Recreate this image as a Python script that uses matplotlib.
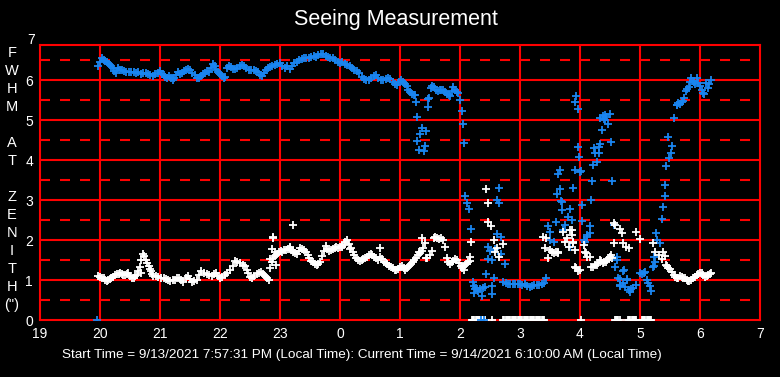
import numpy as np
import matplotlib
matplotlib.use("Agg")
import matplotlib.pyplot as plt
from matplotlib.transforms import blended_transform_factory

plt.rcParams['font.family'] = ['Liberation Sans', 'DejaVu Sans']

# ------------------------------------------------------------------
# data  (time in hours after local midnight of the start day, 24 = 0h)
# ------------------------------------------------------------------
hour_ticks = [19, 20, 21, 22, 23, 24, 25, 26, 27, 28, 29, 30, 31]
hour_labels = ['19', '20', '21', '22', '23', '0', '1', '2', '3', '4', '5', '6', '7']

blue_trace = [
    (19.97, 6.35), (20.00, 6.45), (20.03, 6.54), (20.06, 6.50), (20.09, 6.48),
    (20.12, 6.44), (20.15, 6.40), (20.18, 6.36), (20.21, 6.30), (20.24, 6.22),
    (20.27, 6.18), (20.30, 6.30), (20.33, 6.26), (20.36, 6.24), (20.40, 6.22),
    (20.44, 6.21), (20.48, 6.19), (20.52, 6.21), (20.56, 6.20), (20.60, 6.18),
    (20.64, 6.20), (20.68, 6.16), (20.72, 6.18), (20.76, 6.17), (20.80, 6.14),
    (20.84, 6.12), (20.88, 6.10), (20.92, 6.14), (20.96, 6.18), (21.00, 6.22),
    (21.03, 6.16), (21.06, 6.12), (21.09, 6.08), (21.12, 6.06), (21.15, 6.10),
    (21.18, 6.04), (21.21, 6.00), (21.24, 6.06), (21.27, 6.12), (21.30, 6.20),
    (21.33, 6.14), (21.36, 6.18), (21.40, 6.22), (21.44, 6.26), (21.47, 6.28),
    (21.50, 6.24), (21.54, 6.18), (21.58, 6.12), (21.62, 6.06), (21.65, 6.04),
    (21.68, 6.10), (21.72, 6.14), (21.75, 6.18), (21.78, 6.22), (21.82, 6.20),
    (21.85, 6.30), (21.88, 6.40), (21.91, 6.34), (21.94, 6.26), (21.97, 6.21),
    (22.00, 6.16), (22.03, 6.10), (22.06, 6.04), (22.09, 6.08), (22.12, 6.30),
    (22.15, 6.36), (22.18, 6.32), (22.21, 6.28), (22.25, 6.27), (22.29, 6.30),
    (22.33, 6.34), (22.37, 6.37), (22.40, 6.36), (22.44, 6.30), (22.48, 6.26),
    (22.52, 6.24), (22.56, 6.24), (22.60, 6.22), (22.64, 6.20), (22.67, 6.12),
    (22.70, 6.10), (22.73, 6.18), (22.77, 6.24), (22.80, 6.30), (22.83, 6.32),
    (22.87, 6.34), (22.91, 6.38), (22.95, 6.40), (23.00, 6.42), (23.04, 6.36),
    (23.08, 6.30), (23.12, 6.34), (23.16, 6.28), (23.20, 6.36), (23.24, 6.42),
    (23.28, 6.46), (23.32, 6.50), (23.36, 6.52), (23.40, 6.54), (23.44, 6.56),
    (23.48, 6.55), (23.52, 6.58), (23.56, 6.60), (23.60, 6.58), (23.64, 6.62),
    (23.68, 6.65), (23.72, 6.66), (23.76, 6.60), (23.80, 6.58), (23.84, 6.56),
    (23.88, 6.54), (23.92, 6.50), (23.96, 6.46), (24.00, 6.42), (24.04, 6.44),
    (24.08, 6.40), (24.12, 6.38), (24.16, 6.34), (24.20, 6.30), (24.24, 6.26),
    (24.28, 6.22), (24.32, 6.18), (24.36, 6.08), (24.40, 6.02), (24.44, 6.00),
    (24.48, 6.00), (24.52, 6.04), (24.56, 6.10), (24.60, 6.12), (24.64, 6.06),
    (24.68, 6.00), (24.72, 6.00), (24.76, 6.02), (24.80, 6.04), (24.84, 6.02),
    (24.88, 5.96), (24.92, 5.90), (24.95, 5.88), (24.98, 5.94), (25.02, 6.00),
    (25.05, 5.96), (25.08, 5.90), (25.11, 5.84), (25.14, 5.76), (25.17, 5.71),
    (25.20, 5.66), (25.23, 5.62), (25.25, 5.62),
    (25.52, 5.80), (25.54, 5.86), (25.57, 5.82), (25.60, 5.76), (25.63, 5.72),
    (25.66, 5.74), (25.69, 5.76), (25.72, 5.75), (25.75, 5.70), (25.78, 5.66),
    (25.81, 5.62), (25.83, 5.60), (25.86, 5.72), (25.89, 5.82), (25.92, 5.76),
    (25.95, 5.70), (25.97, 5.67), (26.00, 5.50), (26.03, 5.22), (26.05, 4.89),
    (26.07, 4.42), (26.08, 3.10), (26.11, 2.92), (26.15, 2.77), (26.18, 2.27),
]

blue_scatter = [
    (25.26, 5.46), (25.28, 5.07), (25.36, 4.79), (25.43, 4.72), (25.33, 4.64),
    (25.29, 4.47), (25.42, 4.35), (25.32, 4.25), (25.40, 4.22), (25.46, 5.32),
    (25.48, 5.54), (25.46, 5.52),
    (26.21, 0.94), (26.23, 0.68), (26.24, 0.85), (26.25, 0.77), (26.27, 0.80),
    (26.30, 0.72), (26.33, 0.78), (26.36, 0.61), (26.39, 0.79), (26.42, 0.83),
    (26.53, 0.86), (26.54, 0.64), (26.43, 1.16), (26.46, 1.53), (26.47, 1.82),
    (26.50, 1.72), (26.53, 1.50), (26.56, 1.06), (26.58, 1.77), (26.61, 2.14),
    (26.61, 3.00), (26.65, 3.29), (26.65, 2.93), (26.68, 1.65), (26.69, 2.07),
    (26.75, 1.40),
]

blue_band = [
    (26.72, 0.95), (26.76, 0.92), (26.80, 0.90), (26.84, 0.90), (26.88, 0.89),
    (26.92, 0.90), (26.96, 0.90), (27.00, 0.89), (27.04, 0.88), (27.08, 0.90),
    (27.12, 0.86), (27.16, 0.82), (27.20, 0.86), (27.24, 0.88), (27.28, 0.88),
    (27.32, 0.88), (27.36, 0.90), (27.40, 0.92), (27.43, 1.04),
]

blue_late = [
    (27.47, 2.35), (27.50, 2.21), (27.50, 2.00), (27.56, 1.96), (27.60, 2.46),
    (27.62, 3.15), (27.64, 3.65), (27.67, 3.75), (27.67, 3.27), (27.69, 2.97),
    (27.70, 2.75), (27.70, 2.96), (27.72, 2.25), (27.75, 2.37), (27.80, 2.58),
    (27.83, 2.77), (27.83, 1.83), (27.87, 2.50), (27.89, 3.29), (27.91, 3.74),
    (27.92, 5.44), (27.93, 5.60), (27.96, 5.27), (27.97, 4.32), (27.99, 4.07),
    (28.00, 3.71), (28.01, 3.72), (28.03, 2.47), (28.04, 2.87), (28.06, 2.00),
    (28.08, 1.96), (28.11, 2.12), (28.11, 2.08), (28.16, 2.35), (28.16, 2.17),
    (28.18, 2.99), (28.20, 3.47), (28.22, 3.87), (28.24, 4.29), (28.25, 4.18),
    (28.29, 3.94), (28.31, 4.17), (28.32, 4.33), (28.33, 4.39), (28.34, 5.04),
    (28.36, 4.75), (28.38, 5.10), (28.40, 5.02), (28.41, 5.12), (28.42, 5.00),
    (28.44, 5.07), (28.46, 4.89), (28.50, 5.14), (28.52, 4.44), (28.54, 3.47),
    (28.56, 2.37), (28.59, 1.33), (28.61, 1.50), (28.62, 1.58), (28.64, 1.04),
    (28.66, 1.03), (28.67, 0.86), (28.67, 0.87), (28.71, 1.23), (28.72, 0.92),
    (28.73, 1.25), (28.75, 0.83), (28.78, 1.00), (28.79, 1.02), (28.81, 0.74),
    (28.83, 0.71), (28.85, 0.77), (28.89, 0.79), (28.94, 0.87),
    (29.00, 1.17), (29.04, 1.15), (29.06, 1.18), (29.08, 1.20), (29.12, 1.00),
    (29.14, 0.92), (29.17, 0.85), (29.18, 0.73), (29.22, 1.32), (29.23, 1.58),
    (29.24, 1.35), (29.25, 1.46), (29.26, 2.17), (29.28, 2.00), (29.33, 1.93),
    (29.36, 2.52), (29.39, 2.83), (29.41, 3.10), (29.42, 3.37), (29.44, 3.85),
    (29.47, 4.57), (29.49, 4.04), (29.52, 4.18), (29.54, 4.35), (29.56, 5.04),
    (29.61, 5.37), (29.62, 5.38), (29.64, 5.42), (29.67, 5.40), (29.70, 5.45),
    (29.72, 5.48), (29.74, 5.55), (29.77, 5.72), (29.79, 5.78), (29.81, 5.83),
    (29.83, 5.95), (29.85, 6.04), (29.88, 5.98), (29.90, 5.95), (29.92, 5.90),
    (29.95, 6.05), (29.97, 5.93), (30.00, 5.85), (30.03, 5.75), (30.05, 5.67),
    (30.07, 5.65), (30.10, 5.93), (30.13, 5.80), (30.15, 5.90), (30.18, 6.00),
]

blue_zero_t = [19.95, 26.35, 26.40]

white_trace = [
    (19.97, 1.10), (20.00, 1.08), (20.03, 1.06), (20.06, 1.04), (20.09, 1.00),
    (20.11, 0.98), (20.14, 1.00), (20.17, 1.02), (20.19, 1.04), (20.22, 1.08),
    (20.25, 1.12), (20.28, 1.15), (20.31, 1.16), (20.33, 1.18), (20.36, 1.15),
    (20.39, 1.12), (20.42, 1.12), (20.45, 1.15), (20.47, 1.17), (20.50, 1.10),
    (20.53, 1.06), (20.56, 1.04), (20.59, 1.10), (20.61, 1.12), (20.64, 1.22),
    (20.66, 1.32), (20.69, 1.50), (20.72, 1.65), (20.74, 1.60), (20.77, 1.50),
    (20.79, 1.42), (20.81, 1.36), (20.83, 1.28), (20.85, 1.23), (20.87, 1.15),
    (20.89, 1.10), (20.93, 1.09), (20.97, 1.08), (21.01, 1.06), (21.06, 1.04),
    (21.10, 1.02), (21.14, 1.00), (21.17, 0.98), (21.21, 1.00), (21.25, 1.00),
    (21.28, 1.04), (21.31, 1.04), (21.35, 1.00), (21.39, 0.96), (21.43, 1.04),
    (21.47, 1.10), (21.50, 1.02), (21.53, 0.96), (21.57, 0.98), (21.61, 1.00),
    (21.65, 1.12), (21.69, 1.23), (21.73, 1.18), (21.78, 1.15), (21.82, 1.12),
    (21.86, 1.10), (21.90, 1.14), (21.93, 1.17), (21.96, 1.10), (22.00, 1.04),
    (22.04, 1.08), (22.08, 1.12), (22.12, 1.18), (22.17, 1.25), (22.21, 1.36),
    (22.25, 1.48), (22.29, 1.45), (22.33, 1.42), (22.38, 1.38), (22.42, 1.35),
    (22.45, 1.25), (22.47, 1.17), (22.50, 1.08), (22.53, 1.04), (22.57, 1.10),
    (22.61, 1.15), (22.65, 1.18), (22.69, 1.21), (22.72, 1.15), (22.75, 1.10),
    (22.78, 1.05), (22.81, 1.00), (22.84, 1.30), (22.86, 1.45), (22.89, 1.55),
    (22.92, 1.60), (22.95, 1.66), (22.98, 1.70), (23.01, 1.72), (23.04, 1.70),
    (23.07, 1.74), (23.10, 1.76), (23.13, 1.78), (23.16, 1.80), (23.19, 1.76),
    (23.22, 1.70), (23.25, 1.68), (23.28, 1.66), (23.31, 1.72), (23.34, 1.80),
    (23.37, 1.78), (23.40, 1.76), (23.43, 1.70), (23.46, 1.62), (23.49, 1.56),
    (23.52, 1.48), (23.55, 1.44), (23.58, 1.40), (23.61, 1.38), (23.64, 1.40),
    (23.67, 1.46), (23.70, 1.60), (23.73, 1.72), (23.76, 1.84), (23.79, 1.78),
    (23.82, 1.72), (23.85, 1.76), (23.88, 1.78), (23.91, 1.80), (23.94, 1.82),
    (23.97, 1.80), (24.00, 1.82), (24.03, 1.84), (24.06, 1.88), (24.09, 1.96),
    (24.12, 2.00), (24.15, 1.90), (24.18, 1.80), (24.21, 1.70), (24.24, 1.62),
    (24.27, 1.55), (24.30, 1.50), (24.33, 1.48), (24.36, 1.50), (24.39, 1.52),
    (24.42, 1.54), (24.45, 1.58), (24.48, 1.62), (24.51, 1.66), (24.54, 1.62),
    (24.57, 1.58), (24.60, 1.54), (24.63, 1.50), (24.66, 1.58), (24.70, 1.52),
    (24.73, 1.46), (24.76, 1.42), (24.79, 1.40), (24.82, 1.36), (24.85, 1.32),
    (24.88, 1.30), (24.91, 1.26), (24.94, 1.24), (24.97, 1.28), (25.00, 1.32),
    (25.03, 1.36), (25.06, 1.30), (25.09, 1.24), (25.12, 1.30), (25.15, 1.36),
    (25.18, 1.40), (25.21, 1.44), (25.24, 1.50), (25.27, 1.56), (25.30, 1.62),
    (25.33, 1.68), (25.36, 1.72), (25.39, 1.80), (25.45, 1.55), (25.50, 1.62),
    (25.53, 1.72), (25.56, 2.05), (25.59, 2.08), (25.62, 2.04), (25.65, 2.02),
    (25.68, 2.06), (25.72, 2.00), (25.75, 1.82), (25.78, 1.54), (25.80, 1.45),
    (25.83, 1.40), (25.86, 1.44), (25.89, 1.48), (25.92, 1.52), (25.95, 1.50),
    (25.98, 1.42), (26.01, 1.36), (26.04, 1.30), (26.07, 1.34), (26.10, 1.40),
    (26.13, 1.44), (26.16, 1.48), (26.19, 1.96),
]

white_scatter = [
    (20.68, 1.18), (22.83, 1.52), (22.86, 1.77), (22.88, 2.07), (22.89, 2.04),
    (22.92, 1.71), (22.94, 1.37), (23.17, 1.82), (23.22, 2.37), (24.03, 1.83),
    (24.17, 1.77), (24.67, 1.79), (25.31, 1.71), (25.36, 2.04), (25.42, 1.92),
    (25.44, 1.54), (26.06, 1.25), (26.17, 1.58),
    (26.43, 3.27), (26.46, 2.93), (26.47, 2.46), (26.51, 2.35), (26.56, 2.00),
    (26.58, 1.71), (26.61, 1.79), (26.65, 1.57), (26.71, 1.89),
]

white_late = [
    (27.39, 2.07), (27.42, 1.81), (27.44, 2.04), (27.47, 1.54), (27.50, 1.75),
    (27.53, 1.70), (27.56, 1.67), (27.60, 1.71), (27.64, 1.71), (27.64, 1.68),
    (27.72, 2.21), (27.75, 1.96), (27.78, 2.04), (27.81, 1.83), (27.83, 2.25),
    (27.86, 2.25), (27.86, 2.12), (27.89, 1.92), (27.89, 1.96), (27.92, 1.75),
    (27.92, 1.33), (27.94, 1.29), (27.97, 1.23), (28.00, 1.25), (28.06, 1.87),
    (28.08, 1.71), (28.10, 1.68), (28.11, 1.58), (28.16, 1.57), (28.19, 1.33),
    (28.22, 1.32), (28.25, 1.37), (28.28, 1.37), (28.30, 1.42), (28.33, 1.50),
    (28.35, 1.48), (28.39, 1.43), (28.40, 1.45), (28.44, 1.46), (28.45, 1.50),
    (28.48, 1.55), (28.50, 1.58), (28.52, 1.62), (28.53, 1.54), (28.56, 2.43),
    (28.56, 1.92), (28.58, 2.37), (28.67, 2.27), (28.70, 2.17), (28.72, 1.92),
    (28.77, 1.83), (28.81, 1.79), (28.94, 2.19), (29.00, 2.02), (29.21, 1.92),
    (29.25, 1.71), (29.31, 1.62), (29.36, 1.52), (29.39, 1.71), (29.42, 1.60),
    (29.44, 1.37), (29.45, 1.35), (29.47, 1.30), (29.50, 1.27), (29.53, 1.20),
    (29.56, 1.12), (29.58, 1.08), (29.61, 1.04), (29.63, 1.06), (29.67, 1.10),
    (29.70, 1.08), (29.72, 1.06), (29.75, 1.04), (29.78, 1.00), (29.80, 0.98),
    (29.82, 0.97), (29.85, 1.00), (29.89, 1.04), (29.92, 1.08), (29.95, 1.12),
    (29.97, 1.15), (30.00, 1.17), (30.03, 1.18), (30.05, 1.12), (30.08, 1.07),
    (30.11, 1.10), (30.14, 1.12), (30.16, 1.15), (30.18, 1.17),
]

# readings of 0 (no measurement) along the bottom of the chart
white_zero_t = [
    26.20, 26.22, 26.24, 26.26, 26.28, 26.30, 26.32, 26.34, 26.36, 26.38,
    26.40, 26.42, 26.54,
    26.72, 26.74, 26.76, 26.78, 26.80, 26.82, 26.84, 26.86, 26.88, 26.90,
    26.92, 26.94, 26.96, 26.98, 27.00, 27.02, 27.04, 27.06, 27.08, 27.10,
    27.12, 27.14, 27.16, 27.18, 27.20, 27.22, 27.24, 27.26, 27.28, 27.30,
    27.32, 27.34, 27.36, 27.38, 27.40, 28.02,
    28.58, 28.60, 28.62, 28.64, 28.66,
    28.80, 28.82, 28.84, 28.86, 28.88, 28.90, 28.92, 28.94,
    29.03, 29.05, 29.07, 29.09, 29.11, 29.13, 29.15, 29.17, 29.19,
]

title = 'Seeing Measurement'
footer = ('Start Time = 9/13/2021 7:57:31 PM (Local Time): '
          'Current Time = 9/14/2021 6:10:00 AM (Local Time)')
ylabel_letters = ['F', 'W', 'H', 'M', '', 'A', 'T', '', 'Z', 'E', 'N', 'I', 'T', 'H', '(")']

# ------------------------------------------------------------------
# figure
# ------------------------------------------------------------------
W, H = 780, 377
fig = plt.figure(figsize=(W / 100, H / 100), dpi=100, facecolor='black')
ax = fig.add_axes([40 / W, (H - 320) / H, 720 / W, 275 / H])
ax.set_facecolor('black')

RED = '#FF0000'
BLUE = '#1A85F0'

ax.set_xlim(19, 31)
ax.set_ylim(0, 6.875)

# grid: solid at integers, dashed at halves
for h in hour_ticks[1:-1]:
    ax.axvline(h, color=RED, lw=1.5, zorder=1)
for v in range(1, 7):
    ax.axhline(v, color=RED, lw=1.5, zorder=1)
for v in np.arange(0.5, 7, 1.0):
    ax.axhline(v, color=RED, lw=1.5, ls=(0, (4.8, 4.8)), zorder=1)

for s in ax.spines.values():
    s.set_color(RED)
    s.set_linewidth(1.5)

mk = dict(ls='none', marker='+', ms=6, mew=1.3, zorder=3)
for seg in (blue_trace, blue_scatter, blue_band, blue_late):
    t, v = np.array(seg).T
    ax.plot(t, v, color=BLUE, **mk)
for seg in (white_trace, white_scatter, white_late):
    t, v = np.array(seg).T
    ax.plot(t, v, color='white', **mk)
ax.plot(white_zero_t, np.zeros(len(white_zero_t)), color='white', **mk)
ax.plot(blue_zero_t, np.zeros(len(blue_zero_t)), color=BLUE, **mk)

# ticks
ax.set_xticks(hour_ticks)
ax.set_xticklabels(hour_labels)
ax.set_yticks(range(0, 7))
ax.tick_params(length=0, colors='white', labelsize=10)
ax.tick_params(axis='x', pad=5)
ax.tick_params(axis='y', pad=5)
trans = blended_transform_factory(ax.transAxes, ax.transData)
ax.text(-5 / 720, 7, '7', transform=trans, ha='right', va='center',
        color='white', fontsize=10, clip_on=False)

fig.text(396 / W, 1 - 20 / H, title, ha='center', va='center',
         color='white', fontsize=15.5)
fig.text(362 / W, 1 - 355 / H, footer, ha='center', va='center',
         color='white', fontsize=9.7)

for i, ch in enumerate(ylabel_letters):
    if ch:
        fig.text(12 / W, 1 - (53 + 18.0 * i) / H, ch, ha='center',
                 va='center', color='white', fontsize=10.5)

fig.savefig('out.png', dpi=100, facecolor='black')
